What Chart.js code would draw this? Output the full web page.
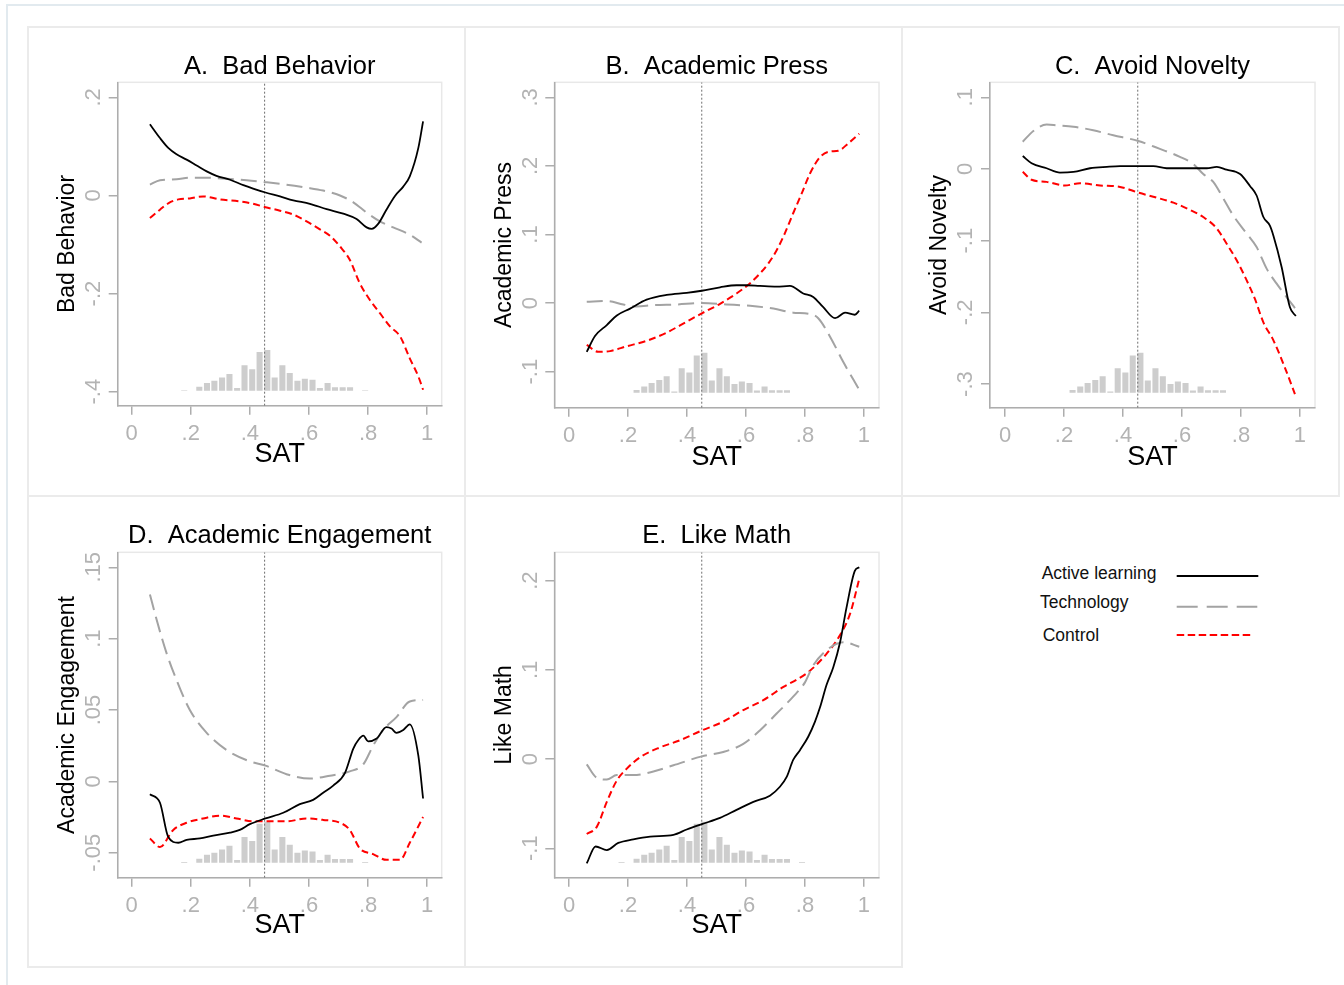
<!DOCTYPE html>
<html>
<head>
<meta charset="utf-8">
<title>SAT panels</title>
<script src="https://cdn.jsdelivr.net/npm/chart.js@4.4.1/dist/chart.umd.min.js"></script>
<style>
  body { margin: 0; background: #fff; width: 1344px; height: 985px; overflow: hidden; position: relative;
         font-family: 'Liberation Sans', Arial, Helvetica, sans-serif; }
  .frame { position: absolute; left: 6px; top: 4px; width: 1400px; height: 1000px; border: 2px solid #e2eaef; }
  .hl, .vl { position: absolute; background: #ebebeb; }
  .hl { height: 2px; }
  .vl { width: 2px; }
  canvas { position: absolute; }
  #legend { position: absolute; left: 1000px; top: 540px; }
</style>
</head>
<body>
<div class="frame"></div>
<div class="hl" style="left:27px;top:26px;width:1313px"></div>
<div class="hl" style="left:27px;top:495px;width:1313px"></div>
<div class="hl" style="left:27px;top:966px;width:876px"></div>
<div class="vl" style="left:27px;top:26px;height:942px"></div>
<div class="vl" style="left:464px;top:26px;height:942px"></div>
<div class="vl" style="left:901px;top:26px;height:942px"></div>
<div class="vl" style="left:1338px;top:26px;height:471px"></div>

<canvas id="panelA" width="437" height="469" style="left:28px;top:27px"></canvas>
<canvas id="panelB" width="437" height="469" style="left:465px;top:27px"></canvas>
<canvas id="panelC" width="437" height="469" style="left:902px;top:27px"></canvas>
<canvas id="panelD" width="437" height="471" style="left:28px;top:496px"></canvas>
<canvas id="panelE" width="437" height="471" style="left:465px;top:496px"></canvas>
<svg id="legend" width="320" height="130"></svg>

<script>
// ---- data ----
const seriesNames = ['Active learning', 'Technology', 'Control'];
const cutoffSAT = 0.45;

const xTickValues = [0, 0.2, 0.4, 0.6, 0.8, 1];
const xTickLabels = ['0', '.2', '.4', '.6', '.8', '1'];

// SAT distribution (share of students per bin)
const histSAT = [0.178, 0.204, 0.229, 0.255, 0.280, 0.306, 0.331, 0.357, 0.382, 0.408, 0.433, 0.459, 0.484,
                 0.510, 0.535, 0.561, 0.586, 0.612, 0.637, 0.663, 0.688, 0.714, 0.739, 0.765, 0.790];
const histShare = [0.2, 0, 1.3, 2.6, 3.3, 4.4, 5.6, 0.9, 8.5, 7.2, 12.9, 13.6, 4.4, 8.5, 5.9, 3.3, 4.0, 3.7,
                   0.9, 2.6, 1.2, 1.2, 1.2, 0, 0.2];
const histShareBC = [0, 0, 0.9, 2.0, 3.2, 4.2, 5.4, 0.4, 8.1, 6.7, 12.3, 13.2, 4.0, 8.1, 5.4, 2.9, 3.7, 3.2,
                     0.7, 2.0, 0.8, 0.8, 0.8, 0, 0];

// A. Bad Behavior
const badActive = [[0.062,0.145],[0.096,0.117],[0.124,0.097],[0.152,0.084],[0.186,0.073],[0.220,0.061],[0.254,0.049],[0.287,0.040],[0.333,0.032],[0.378,0.021],[0.411,0.014],[0.453,0.006],[0.502,-0.002],[0.547,-0.010],[0.603,-0.017],[0.660,-0.028],[0.716,-0.037],[0.761,-0.048],[0.795,-0.065],[0.812,-0.068],[0.834,-0.058],[0.862,-0.029],[0.891,-0.001],[0.919,0.018],[0.941,0.039],[0.970,0.097],[0.986,0.151]];
const badTech = [[0.062,0.022],[0.096,0.031],[0.152,0.033],[0.197,0.036],[0.254,0.036],[0.321,0.034],[0.389,0.031],[0.453,0.027],[0.524,0.022],[0.592,0.016],[0.648,0.010],[0.705,0.000],[0.750,-0.014],[0.795,-0.035],[0.840,-0.053],[0.885,-0.065],[0.941,-0.080],[0.981,-0.096]];
const badControl = [[0.062,-0.046],[0.096,-0.029],[0.124,-0.016],[0.158,-0.008],[0.197,-0.006],[0.242,-0.002],[0.299,-0.008],[0.366,-0.012],[0.411,-0.017],[0.453,-0.024],[0.502,-0.031],[0.547,-0.039],[0.592,-0.053],[0.637,-0.069],[0.671,-0.082],[0.705,-0.104],[0.738,-0.131],[0.772,-0.179],[0.806,-0.213],[0.840,-0.240],[0.874,-0.267],[0.908,-0.287],[0.941,-0.332],[0.970,-0.369],[0.986,-0.396]];
const badTicks = [-0.4, -0.2, 0, 0.2];
const badTickLabels = ['-.4', '-.2', '0', '.2'];

// B. Academic Press
const pressActive = [[0.060,-0.071],[0.088,-0.048],[0.128,-0.032],[0.162,-0.018],[0.207,-0.008],[0.263,0.005],[0.331,0.012],[0.399,0.015],[0.450,0.018],[0.512,0.023],[0.568,0.026],[0.602,0.026],[0.647,0.025],[0.704,0.024],[0.749,0.025],[0.794,0.014],[0.828,0.009],[0.862,-0.006],[0.902,-0.022],[0.936,-0.014],[0.969,-0.017],[0.984,-0.011]];
const pressTech = [[0.060,0.002],[0.128,0.003],[0.184,-0.002],[0.229,-0.005],[0.286,-0.003],[0.365,-0.002],[0.450,0.000],[0.534,-0.002],[0.614,-0.004],[0.693,-0.008],[0.760,-0.014],[0.817,-0.016],[0.845,-0.022],[0.885,-0.049],[0.930,-0.086],[0.981,-0.124]];
const pressControl = [[0.060,-0.061],[0.099,-0.071],[0.139,-0.070],[0.195,-0.063],[0.263,-0.055],[0.331,-0.043],[0.399,-0.027],[0.450,-0.015],[0.512,-0.001],[0.568,0.014],[0.614,0.029],[0.647,0.043],[0.676,0.058],[0.704,0.077],[0.732,0.102],[0.760,0.131],[0.789,0.160],[0.817,0.189],[0.851,0.213],[0.885,0.221],[0.913,0.222],[0.947,0.233],[0.984,0.247]];
const pressTicks = [-0.1, 0, 0.1, 0.2, 0.3];
const pressTickLabels = ['-.1', '0', '.1', '.2', '.3'];

// C. Avoid Novelty
const noveltyActive = [[0.060,0.018],[0.090,0.008],[0.141,0.001],[0.186,-0.005],[0.232,-0.004],[0.288,0.001],[0.345,0.003],[0.390,0.004],[0.452,0.004],[0.503,0.004],[0.548,0.001],[0.616,0.001],[0.684,0.001],[0.718,0.003],[0.751,-0.001],[0.797,-0.007],[0.831,-0.024],[0.853,-0.037],[0.876,-0.067],[0.898,-0.079],[0.910,-0.093],[0.938,-0.137],[0.966,-0.193],[0.986,-0.205]];
const noveltyTech = [[0.060,0.038],[0.096,0.053],[0.141,0.062],[0.175,0.061],[0.232,0.059],[0.299,0.054],[0.367,0.047],[0.452,0.039],[0.525,0.028],[0.593,0.017],[0.638,0.007],[0.672,-0.007],[0.706,-0.018],[0.740,-0.041],[0.774,-0.065],[0.819,-0.090],[0.853,-0.109],[0.887,-0.139],[0.921,-0.160],[0.955,-0.179],[0.983,-0.194]];
const noveltyControl = [[0.060,-0.004],[0.090,-0.015],[0.141,-0.018],[0.203,-0.023],[0.254,-0.020],[0.322,-0.023],[0.390,-0.025],[0.452,-0.033],[0.514,-0.040],[0.571,-0.047],[0.627,-0.057],[0.672,-0.067],[0.718,-0.083],[0.751,-0.104],[0.785,-0.127],[0.819,-0.155],[0.847,-0.181],[0.876,-0.214],[0.910,-0.239],[0.944,-0.272],[0.983,-0.314]];
const noveltyTicks = [-0.3, -0.2, -0.1, 0, 0.1];
const noveltyTickLabels = ['-.3', '-.2', '-.1', '0', '.1'];

// D. Academic Engagement
const engageActive = [[0.062,-0.009],[0.096,-0.015],[0.124,-0.039],[0.158,-0.043],[0.186,-0.041],[0.231,-0.040],[0.276,-0.038],[0.333,-0.036],[0.366,-0.034],[0.400,-0.030],[0.453,-0.026],[0.513,-0.022],[0.569,-0.016],[0.614,-0.013],[0.648,-0.008],[0.682,-0.003],[0.722,0.006],[0.750,0.023],[0.767,0.029],[0.784,0.032],[0.800,0.028],[0.829,0.030],[0.862,0.038],[0.879,0.037],[0.896,0.034],[0.919,0.036],[0.941,0.040],[0.970,0.018],[0.986,-0.012]];
const engageTech = [[0.062,0.131],[0.085,0.113],[0.118,0.090],[0.152,0.071],[0.197,0.050],[0.254,0.034],[0.321,0.022],[0.400,0.014],[0.453,0.011],[0.524,0.005],[0.603,0.002],[0.671,0.004],[0.738,0.007],[0.784,0.012],[0.817,0.025],[0.851,0.036],[0.896,0.045],[0.941,0.056],[0.986,0.057]];
const engageControl = [[0.062,-0.040],[0.096,-0.046],[0.141,-0.034],[0.186,-0.029],[0.242,-0.026],[0.299,-0.024],[0.355,-0.026],[0.411,-0.028],[0.468,-0.028],[0.524,-0.028],[0.592,-0.026],[0.648,-0.027],[0.705,-0.029],[0.738,-0.034],[0.772,-0.047],[0.817,-0.051],[0.862,-0.055],[0.908,-0.055],[0.941,-0.043],[0.986,-0.025]];
const engageTicks = [-0.05, 0, 0.05, 0.1, 0.15];
const engageTickLabels = ['-.05', '0', '.05', '.1', '.15'];

// E. Like Math
const mathActive = [[0.060,-0.117],[0.090,-0.098],[0.128,-0.102],[0.167,-0.094],[0.218,-0.090],[0.275,-0.087],[0.354,-0.085],[0.399,-0.079],[0.450,-0.073],[0.512,-0.066],[0.568,-0.057],[0.625,-0.048],[0.681,-0.041],[0.715,-0.031],[0.738,-0.020],[0.760,-0.001],[0.783,0.010],[0.811,0.025],[0.834,0.042],[0.851,0.058],[0.873,0.083],[0.896,0.103],[0.919,0.131],[0.941,0.170],[0.969,0.211],[0.984,0.215]];
const mathTech = [[0.060,-0.006],[0.094,-0.021],[0.128,-0.023],[0.162,-0.018],[0.218,-0.018],[0.286,-0.014],[0.354,-0.007],[0.450,0.003],[0.523,0.008],[0.591,0.017],[0.647,0.032],[0.704,0.051],[0.760,0.070],[0.800,0.086],[0.828,0.105],[0.873,0.122],[0.930,0.131],[0.984,0.126]];
const mathControl = [[0.060,-0.084],[0.094,-0.076],[0.128,-0.048],[0.162,-0.024],[0.195,-0.011],[0.241,0.002],[0.308,0.013],[0.376,0.021],[0.450,0.032],[0.523,0.042],[0.591,0.055],[0.659,0.066],[0.727,0.081],[0.772,0.089],[0.817,0.099],[0.873,0.118],[0.919,0.139],[0.953,0.163],[0.984,0.202]];
const mathTicks = [-0.1, 0, 0.1, 0.2];
const mathTickLabels = ['-.1', '0', '.1', '.2'];

// ---- styling ----
const FONT = "'Liberation Sans', Arial, Helvetica, sans-serif";
const AXIS = '#adadad';
const TICKTXT = '#b3b3b3';
const lineStyles = [
  { color: '#000000', width: 1.8, dash: [] },
  { color: '#a3a3a3', width: 2, dash: [16, 7] },
  { color: '#ff0000', width: 2, dash: [7, 4] }
];
Chart.defaults.font.family = FONT;

// plot frame + rotated y tick labels (Stata style)
const panelDecor = {
  id: 'panelDecor',
  beforeDraw(chart) {
    const { ctx, chartArea: a } = chart;
    ctx.save();
    ctx.strokeStyle = '#e8e8e8';
    ctx.lineWidth = 1.5;
    ctx.strokeRect(a.left, a.top, a.right - a.left, a.bottom - a.top);
    ctx.restore();
  },
  afterDraw(chart, args, opts) {
    const { ctx, chartArea: a } = chart;
    const ys = chart.scales.y;
    ctx.save();
    ctx.fillStyle = TICKTXT;
    ctx.font = '22px ' + FONT;
    ctx.textAlign = 'center';
    ctx.textBaseline = 'alphabetic';
    opts.values.forEach((v, i) => {
      ctx.save();
      ctx.translate(a.left - 17.7, ys.getPixelForValue(v));
      ctx.rotate(-Math.PI / 2);
      ctx.fillText(opts.labels[i], 0, 0);
      ctx.restore();
    });
    ctx.restore();
  }
};

function makePanel(p) {
  const L = p.layout;
  const datasets = p.series.map((pts, i) => ({
    type: 'line',
    label: seriesNames[i],
    data: pts.map(d => ({ x: d[0], y: d[1] })),
    borderColor: lineStyles[i].color,
    borderWidth: lineStyles[i].width,
    borderDash: lineStyles[i].dash,
    pointRadius: 0,
    cubicInterpolationMode: 'monotone',
    fill: false,
    yAxisID: 'y'
  }));
  datasets.push({
    type: 'line', label: 'cutoff',
    data: [{ x: cutoffSAT, y: p.yRange[0] }, { x: cutoffSAT, y: p.yRange[1] }],
    borderColor: '#6e6e6e', borderWidth: 1, borderDash: [2, 2], pointRadius: 0, yAxisID: 'y'
  });
  datasets.push({
    type: 'bar', label: 'SAT distribution',
    data: histSAT.map((x, i) => ({ x: x, y: p.hist[i] })),
    backgroundColor: '#cdcdcd', borderWidth: 0,
    barPercentage: 0.82, categoryPercentage: 1, yAxisID: 'yh'
  });

  new Chart(document.getElementById(p.id), {
    type: 'line',
    data: { datasets: datasets },
    options: {
      responsive: false,
      animation: false,
      events: [],
      layout: { padding: { left: 0, right: L.padRight, top: 0, bottom: 0 } },
      plugins: {
        legend: { display: false },
        tooltip: { enabled: false },
        title: {
          display: true, text: p.title, fullSize: false, color: '#000',
          font: { size: 25.5, weight: 'normal' },
          padding: { top: L.titleTop, bottom: L.titleBottom }
        },
        panelDecor: { values: p.yTicks, labels: p.yTickLabels }
      },
      scales: {
        x: {
          type: 'linear', min: p.xRange[0], max: p.xRange[1], offset: false,
          afterBuildTicks: s => { s.ticks = xTickValues.map(v => ({ value: v })); },
          afterFit: s => { s.height = L.xHeight; },
          ticks: {
            callback: v => xTickLabels[xTickValues.findIndex(t => Math.abs(t - v) < 1e-9)],
            color: TICKTXT, font: { size: 22 }, padding: 6.4, maxRotation: 0, autoSkip: false
          },
          grid: { drawOnChartArea: false, drawTicks: true, tickLength: 9, color: AXIS, lineWidth: 1.5, offset: false },
          border: { display: true, color: AXIS, width: 1.5 },
          title: { display: true, text: 'SAT', color: '#000', font: { size: 27 }, padding: { top: 0, bottom: L.xTitlePad } }
        },
        y: {
          type: 'linear', position: 'left', min: p.yRange[0], max: p.yRange[1],
          afterBuildTicks: s => { s.ticks = p.yTicks.map(v => ({ value: v })); },
          afterFit: s => { s.width = L.yWidth; },
          ticks: { display: false },
          grid: { drawOnChartArea: false, drawTicks: true, tickLength: 9, color: AXIS, lineWidth: 1.5 },
          border: { display: true, color: AXIS, width: 1.5 },
          title: { display: true, text: p.yTitle, color: '#000', font: { size: 23 }, padding: { top: L.yTitlePad, bottom: 0 } }
        },
        yh: { type: 'linear', display: false, min: -5, max: 103 }
      }
    },
    plugins: [panelDecor]
  });
}

const row1 = { titleTop: 24.3, titleBottom: 0.4 };
const row2 = { titleTop: 24.6, titleBottom: 1.1 };

makePanel({
  id: 'panelA', title: 'A.  Bad Behavior', yTitle: 'Bad Behavior',
  series: [badActive, badTech, badControl], hist: histShare,
  yTicks: badTicks, yTickLabels: badTickLabels,
  xRange: [-0.047, 1.049], yRange: [-0.4285, 0.2306],
  layout: Object.assign({ yWidth: 89.7, padRight: 23.3, xHeight: 90.3, xTitlePad: 24.9, yTitlePad: 26 }, row1)
});
makePanel({
  id: 'panelB', title: 'B.  Academic Press', yTitle: 'Academic Press',
  series: [pressActive, pressTech, pressControl], hist: histShareBC,
  yTicks: pressTicks, yTickLabels: pressTickLabels,
  xRange: [-0.05, 1.051], yRange: [-0.1525, 0.3219],
  layout: Object.assign({ yWidth: 89.3, padRight: 23, xHeight: 88.3, xTitlePad: 22.6, yTitlePad: 25.7 }, row1)
});
makePanel({
  id: 'panelC', title: 'C.  Avoid Novelty', yTitle: 'Avoid Novelty',
  series: [noveltyActive, noveltyTech, noveltyControl], hist: histShareBC,
  yTicks: noveltyTicks, yTickLabels: noveltyTickLabels,
  xRange: [-0.051, 1.051], yRange: [-0.333, 0.1209],
  layout: Object.assign({ yWidth: 88, padRight: 24, xHeight: 88.3, xTitlePad: 22.6, yTitlePad: 23.7 }, row1)
});
makePanel({
  id: 'panelD', title: 'D.  Academic Engagement', yTitle: 'Academic Engagement',
  series: [engageActive, engageTech, engageControl], hist: histShare,
  yTicks: engageTicks, yTickLabels: engageTickLabels,
  xRange: [-0.047, 1.049], yRange: [-0.0675, 0.1605],
  layout: Object.assign({ yWidth: 89.7, padRight: 23.3, xHeight: 89.3, xTitlePad: 25.3, yTitlePad: 26 }, row2)
});
makePanel({
  id: 'panelE', title: 'E.  Like Math', yTitle: 'Like Math',
  series: [mathActive, mathTech, mathControl], hist: histShare,
  yTicks: mathTicks, yTickLabels: mathTickLabels,
  xRange: [-0.05, 1.051], yRange: [-0.133, 0.2318],
  layout: Object.assign({ yWidth: 89.3, padRight: 23, xHeight: 89.3, xTitlePad: 25.3, yTitlePad: 25.7 }, row2)
});

// legend: label on the left, line sample on the right
const svg = document.getElementById('legend');
const NS = 'http://www.w3.org/2000/svg';
const legendRows = [
  { tx: 41.7, ty: 39.3, ly: 36, x2: 258.3 },
  { tx: 40, ty: 67.7, ly: 66.7, x2: 257.3 },
  { tx: 42.7, ty: 101.2, ly: 95, x2: 253.3 }
];
const legendDash = ['', '21 9', '7.5 3.5'];
seriesNames.forEach((name, i) => {
  const r = legendRows[i];
  const t = document.createElementNS(NS, 'text');
  t.setAttribute('x', r.tx); t.setAttribute('y', r.ty);
  t.setAttribute('font-size', '17.5'); t.setAttribute('fill', '#111');
  t.setAttribute('font-family', FONT);
  t.textContent = name;
  svg.appendChild(t);
  const l = document.createElementNS(NS, 'line');
  l.setAttribute('x1', 176.7); l.setAttribute('x2', r.x2);
  l.setAttribute('y1', r.ly); l.setAttribute('y2', r.ly);
  l.setAttribute('stroke', lineStyles[i].color);
  l.setAttribute('stroke-width', 2);
  if (legendDash[i]) l.setAttribute('stroke-dasharray', legendDash[i]);
  svg.appendChild(l);
});
</script>
</body>
</html>
